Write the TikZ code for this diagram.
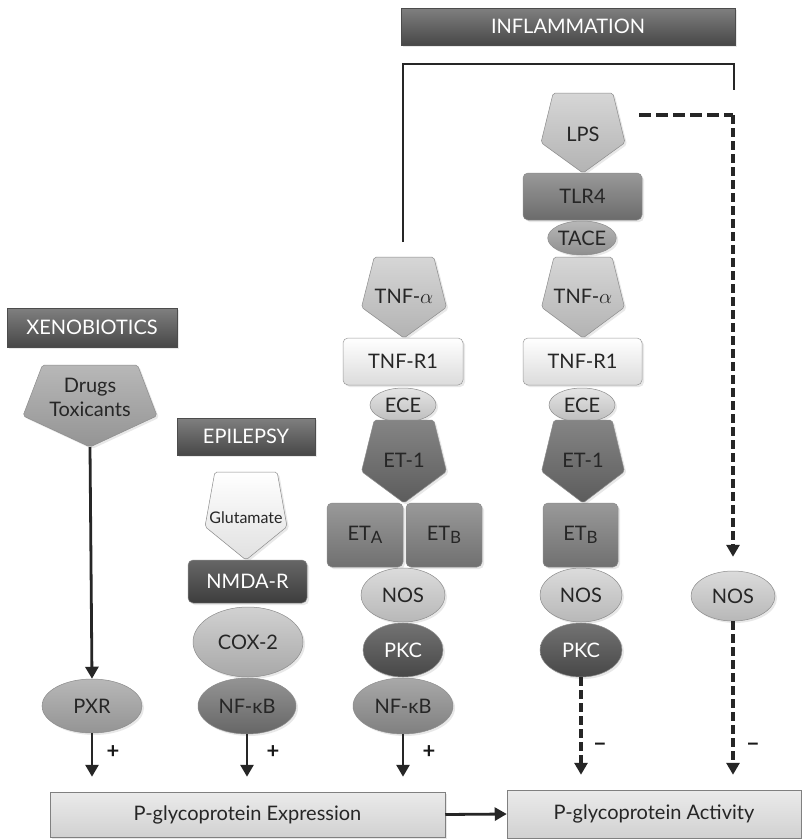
\documentclass[tikz,border=0pt]{standalone}
\usepackage{fontspec}
\setmainfont{Lato}
\usetikzlibrary{arrows.meta,shadows,shapes.geometric}
\tikzset{
  lbl/.style={font=\fontsize{20}{24}\selectfont, text=black!85, inner sep=0pt, align=center},
  gl/.style 2 args={top color=#1, bottom color=#2},
  shp/.style={draw=black!45, line width=0.5pt, drop shadow={opacity=0.18, shadow xshift=2pt, shadow yshift=-2pt}},
  banner/.style={shp, draw=black!70, gl={black!50}{black!72}, text=white, font=\fontsize{20}{22}\selectfont, inner sep=0pt},
  rbox/.style={shp, rounded corners=5pt, inner sep=0pt, font=\fontsize{20}{22}\selectfont, text=black!85},
  ell/.style={shp, ellipse, inner sep=0pt, font=\fontsize{20}{22}\selectfont, text=black!85},
  pbox/.style={shp, draw=black!50, gl={black!8}{black!18}, inner sep=0pt, font=\fontsize{20}{22}\selectfont, text=black!85},
  arr/.style={line width=2.8pt, draw=black!85, -{Triangle[length=12pt,width=13pt]}},
  dsharr/.style={line width=3.2pt, draw=black!85, dash pattern=on 9pt off 4pt, -{Triangle[length=12pt,width=13pt]}},
  dshline/.style={line width=3.2pt, draw=black!85, dash pattern=on 12pt off 5pt},
  brk/.style={line width=1.8pt, draw=black!85},
  sgn/.style={font=\fontsize{22}{24}\selectfont\bfseries, text=black!90, inner sep=0pt},
}
% pentagon: #1 name, #2 cx, #3 ytop, #4 width, #5 height, #6 text frac, #7 top frac, #8 style, #9 text
\newcommand\pentshape[9]{%
  \path[shp, rounded corners=2pt, #8] ({#2-#4*#7/2},#3) -- ({#2+#4*#7/2},#3) -- ({#2+#4/2},{#3+0.62*#5}) -- (#2,{#3+#5}) -- ({#2-#4/2},{#3+0.62*#5}) -- cycle;
  \node[lbl] (#1) at (#2,{#3+#6*#5}) {#9};
  \coordinate (#1-tip) at (#2,{#3+#5});
}
\newcommand\subx[1]{\raisebox{-0.35ex}{\fontsize{17}{17}\selectfont #1}}
\begin{document}
\begin{tikzpicture}[x=1pt,y=-1pt]
\useasboundingbox[fill=white] (0,0) rectangle (802,839);

% ---------- banners ----------
\node[banner, minimum width=334, minimum height=37] (infl) at (568,26.5) {INFLAMMATION};
\node[banner, minimum width=170, minimum height=39] (xeno) at (92,327.5) {XENOBIOTICS};
\node[banner, minimum width=138, minimum height=37] (epi) at (246,436.5) {EPILEPSY};

% ---------- bracket ----------
\coordinate (brL) at (403,242);
\coordinate (brTL) at (403,64);
\coordinate (brTR) at (734,64);
\coordinate (brR) at (734,90);
\draw[brk] (brL) -- (brTL) -- (brTR) -- (brR);

% ---------- column 1 ----------
\pentshape{drugs}{90}{365}{134}{82}{0.40}{0.71}{gl={black!28}{black!42}}{Drugs\\Toxicants}
\node[ell, gl={black!28}{black!42}, minimum width=100, minimum height=54] (pxr) at (92,706) {PXR};

% ---------- column 2 ----------
\pentshape{glu}{246}{472}{82}{88}{0.52}{0.76}{gl={white}{black!12}}{\fontsize{16}{18}\selectfont Glutamate}
\node[rbox, gl={black!60}{black!76}, text=white, minimum width=119, minimum height=43] (nmda) at (247.5,581.5) {NMDA-R};
\node[ell, gl={black!18}{black!34}, minimum width=110, minimum height=70] (cox) at (248,642) {COX-2};
\node[ell, gl={black!42}{black!60}, minimum width=98, minimum height=56] (nfkb2) at (247,706) {NF-κB};

% ---------- column 3 ----------
\pentshape{tnfa3}{404}{257}{85}{81}{0.49}{0.70}{gl={black!16}{black!30}}{TNF-$\alpha$}
\node[rbox, gl={white}{black!14}, draw=black!40, minimum width=120, minimum height=47] (tnfr3) at (403,361.5) {TNF-R1};
\node[ell, gl={black!10}{black!26}, minimum width=66, minimum height=34] (ece3) at (403,405) {ECE};
\node[rbox, gl={black!40}{black!56}, minimum width=76, minimum height=64] (eta3) at (365,535) {ET\subx{A}};
\node[rbox, gl={black!40}{black!56}, minimum width=76, minimum height=64] (etb3) at (444,535) {ET\subx{B}};
\pentshape{et3}{404}{420}{85}{83}{0.49}{0.70}{gl={black!48}{black!64}}{ET-1}
\node[ell, gl={black!14}{black!28}, minimum width=84, minimum height=54] (nos3) at (403,595) {NOS};
\node[ell, gl={black!55}{black!72}, text=white, minimum width=80, minimum height=54] (pkc3) at (403,650) {PKC};
\node[ell, gl={black!34}{black!50}, minimum width=100, minimum height=56] (nfkb3) at (403,706) {NF-κB};

% ---------- column 4 ----------
\pentshape{lps}{583}{93}{84}{80}{0.52}{0.71}{gl={black!16}{black!30}}{LPS}
\coordinate (lpsR) at (639,115);
\node[rbox, gl={black!40}{black!58}, minimum width=119, minimum height=47] (tlr4) at (582.5,196.5) {TLR4};
\node[ell, gl={black!28}{black!44}, minimum width=68, minimum height=34] (tace) at (582,238) {TACE};
\pentshape{tnfa4}{583}{257}{83}{81}{0.49}{0.70}{gl={black!16}{black!30}}{TNF-$\alpha$}
\node[rbox, gl={white}{black!14}, draw=black!40, minimum width=119, minimum height=47] (tnfr4) at (582.5,361.5) {TNF-R1};
\node[ell, gl={black!10}{black!26}, minimum width=66, minimum height=34] (ece4) at (582,405) {ECE};
\node[rbox, gl={black!40}{black!56}, minimum width=75, minimum height=64] (etb4) at (580.5,535) {ET\subx{B}};
\pentshape{et4}{583}{420}{83}{83}{0.49}{0.70}{gl={black!48}{black!64}}{ET-1}
\node[ell, gl={black!14}{black!28}, minimum width=82, minimum height=54] (nos4) at (581,595) {NOS};
\node[ell, gl={black!55}{black!72}, text=white, minimum width=82, minimum height=54] (pkc4) at (581,650) {PKC};

% ---------- column 5 ----------
\node[ell, gl={black!14}{black!28}, minimum width=84, minimum height=50] (nos5) at (733,596) {NOS};

% ---------- bottom boxes ----------
\node[pbox, minimum width=395, minimum height=45] (expr) at (247.5,814.5) {P-glycoprotein Expression};
\node[pbox, minimum width=294, minimum height=48] (act) at (654,814) {P-glycoprotein Activity};

% ---------- connectors ----------
\draw[arr] (drugs-tip) -- (pxr.north);
\draw[arr, shorten >=15pt] (pxr.south) -- (pxr.south |- expr.north);
\draw[arr, shorten >=15pt] (nfkb2.south) -- (nfkb2.south |- expr.north);
\draw[arr, shorten >=15pt] (nfkb3.south) -- (nfkb3.south |- expr.north);
\draw[dsharr, shorten >=15pt] (pkc4.south) -- (pkc4.south |- act.north);
\draw[dsharr, shorten >=15pt] (nos5.south) -- (nos5.south |- act.north);
\draw[dshline] (lpsR) -- (lpsR -| nos5.north);
\draw[dsharr, shorten >=14pt] (lpsR -| nos5.north) -- (nos5.north);
\draw[arr] (expr.east) -- (act.west);

% ---------- signs ----------
\node[sgn] (p1) at (113,752) {+};
\node[sgn] (p2) at (273,752) {+};
\node[sgn] (p3) at (429,752) {+};
\node[sgn] (m1) at (600,747) {−};
\node[sgn] (m2) at (753,747) {−};
\end{tikzpicture}
\end{document}
